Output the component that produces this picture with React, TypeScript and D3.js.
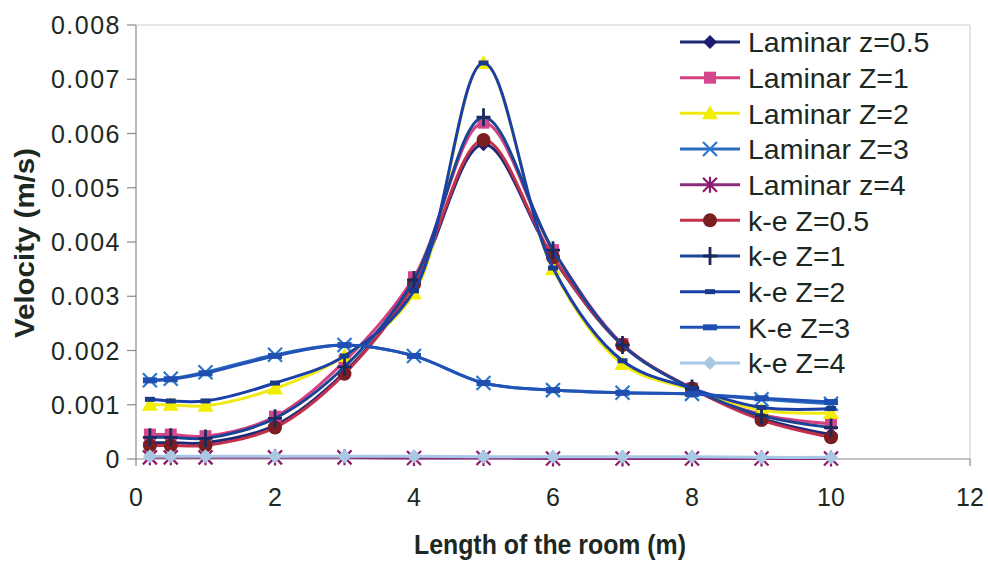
import React from 'react';
import * as d3 from 'd3';

// room positions (m)
const xs = [0.2, 0.5, 1, 2, 3, 4, 5, 6, 7, 8, 9, 10];

// velocities (m/s)
const lamZ05 = [0.0003, 0.0003, 0.0003, 0.00062, 0.0016, 0.0032, 0.0058, 0.0037, 0.0021, 0.0013, 0.00075, 0.00045];
const lamZ1 = [0.00045, 0.00045, 0.00042, 0.00078, 0.0018, 0.00335, 0.0062, 0.00385, 0.00212, 0.0013, 0.00082, 0.00065];
const lamZ2 = [0.001, 0.001, 0.00098, 0.0013, 0.0019, 0.00305, 0.0073, 0.0035, 0.00175, 0.00128, 0.0009, 0.00085];
const lamZ3 = [0.00145, 0.00148, 0.0016, 0.00192, 0.0021, 0.0019, 0.0014, 0.00127, 0.00122, 0.0012, 0.0011, 0.00102];
const lamZ4 = [0.00003, 0.00003, 0.00003, 0.00003, 0.00003, 0.00002, 0.00002, 0.00001, 0.00001, 0.00001, 0.00001, 0.00001];
const keZ05 = [0.00025, 0.00025, 0.00025, 0.00058, 0.00157, 0.00322, 0.00588, 0.00372, 0.0021, 0.0013, 0.00072, 0.0004];
const keZ1 = [0.0004, 0.0004, 0.00038, 0.00075, 0.0017, 0.0033, 0.0063, 0.00385, 0.0021, 0.0013, 0.0008, 0.00058];
const keZ2 = [0.0011, 0.00107, 0.00107, 0.0014, 0.0019, 0.0031, 0.0073, 0.00352, 0.00181, 0.0013, 0.00095, 0.00093];
const keZ3 = [0.00145, 0.00147, 0.00158, 0.0019, 0.0021, 0.0019, 0.0014, 0.00127, 0.00122, 0.0012, 0.00112, 0.00105];
const keZ4 = [0.00005, 0.00005, 0.00005, 0.00005, 0.00005, 0.00005, 0.00004, 0.00004, 0.00004, 0.00004, 0.00003, 0.00003];

const names = ['Laminar z=0.5', 'Laminar Z=1', 'Laminar Z=2', 'Laminar Z=3', 'Laminar z=4',
  'k-e Z=0.5', 'k-e Z=1', 'k-e Z=2', 'K-e Z=3', 'k-e Z=4'];
const values = [lamZ05, lamZ1, lamZ2, lamZ3, lamZ4, keZ05, keZ1, keZ2, keZ3, keZ4];

const xTicks = [0, 2, 4, 6, 8, 10, 12];
const yTicks = [0, 0.001, 0.002, 0.003, 0.004, 0.005, 0.006, 0.007, 0.008];

const styles = [
  { line: '#1c2a78', marker: 'diamond', fill: '#1c1c6e' },
  { line: '#d64080', marker: 'square', fill: '#d6468c' },
  { line: '#f0ea10', marker: 'triangle', fill: '#f2ee00' },
  { line: '#2a6cc0', marker: 'x', fill: '#2a78cc' },
  { line: '#8a2a7a', marker: 'asterisk', fill: '#8b1a6b' },
  { line: '#c3304a', marker: 'circle', fill: '#7a1e22' },
  { line: '#1a4494', marker: 'plus', fill: '#1a2a5e' },
  { line: '#1a3fa8', marker: 'dash', fill: '#1a3a8a' },
  { line: '#2052b8', marker: 'bar', fill: '#1f4fb0' },
  { line: '#a8c8e8', marker: 'diamond', fill: '#a8c8e4' },
];

const font = '"Liberation Sans", Arial, sans-serif';
const textCol = '#1d2822';

function Marker({ kind, cx, cy, color }: { kind: string; cx: number; cy: number; color: string }) {
  const s = 7;
  switch (kind) {
    case 'diamond':
      return <path d={`M${cx},${cy - s}L${cx + s},${cy}L${cx},${cy + s}L${cx - s},${cy}Z`} fill={color} />;
    case 'square':
      return <rect x={cx - 6} y={cy - 6} width={12} height={12} fill={color} />;
    case 'triangle':
      return <path d={`M${cx},${cy - 8}L${cx + 8},${cy + 6}L${cx - 8},${cy + 6}Z`} fill={color} />;
    case 'circle':
      return <circle cx={cx} cy={cy} r={7} fill={color} />;
    case 'x':
      return <path d={`M${cx - s},${cy - s}L${cx + s},${cy + s}M${cx - s},${cy + s}L${cx + s},${cy - s}`} stroke={color} strokeWidth={2.2} />;
    case 'asterisk':
      return <path d={`M${cx - s},${cy - s}L${cx + s},${cy + s}M${cx - s},${cy + s}L${cx + s},${cy - s}M${cx},${cy - s - 1}L${cx},${cy + s + 1}`} stroke={color} strokeWidth={2.2} />;
    case 'plus':
      return <path d={`M${cx - s},${cy}L${cx + s},${cy}M${cx},${cy - s - 2}L${cx},${cy + s + 2}`} stroke={color} strokeWidth={2.8} />;
    case 'dash':
      return <rect x={cx - 5} y={cy - 2.5} width={10} height={5} fill={color} />;
    case 'bar':
      return <rect x={cx - 7} y={cy - 3} width={14} height={6} fill={color} />;
    default:
      return null;
  }
}

export default function App() {
  const width = 988, height = 567;
  const x = d3.scaleLinear().domain([0, 12]).range([136, 970]);
  const y = d3.scaleLinear().domain([0, 0.008]).range([459, 25]);

  const line = d3.line<[number, number]>()
    .x(d => x(d[0]))
    .y(d => y(d[1]))
    .curve(d3.curveCatmullRom.alpha(0.5));

  const legendY = d3.scaleLinear().domain([0, 9]).range([42, 363]);

  return (
    <svg width={width} height={height} style={{ position: 'absolute', left: 0, top: 0, background: '#fff' }}
      fontFamily={font}>
      {/* plot frame */}
      <path d={`M${x(0)},${y(0.008)}H${x(12)}V${y(0)}`} fill="none" stroke="#cccccc" strokeWidth={1} />
      <line x1={x(0)} x2={x(12)} y1={y(0)} y2={y(0)} stroke="#8a8a8a" strokeWidth={1.2} />
      <line x1={x(0)} x2={x(0)} y1={y(0)} y2={y(0.008)} stroke="#8a8a8a" strokeWidth={1.2} />

      {yTicks.map(t => (
        <g key={'y' + t}>
          <line x1={x(0) - 9} x2={x(0)} y1={y(t)} y2={y(t)} stroke="#8a8a8a" strokeWidth={1.2} />
          <text x={121} y={y(t)} dy="0.36em" textAnchor="end" fontSize={25} letterSpacing={1.5}
            fill={textCol}>{t === 0 ? '0' : d3.format('.3f')(t)}</text>
        </g>
      ))}
      {xTicks.map(t => (
        <g key={'x' + t}>
          <line x1={x(t)} x2={x(t)} y1={y(0)} y2={y(0) + 7} stroke="#8a8a8a" strokeWidth={1.2} />
          <text x={x(t)} y={506} textAnchor="middle" fontSize={25} fill={textCol}>{t}</text>
        </g>
      ))}

      <text x={550} y={554} textAnchor="middle" fontSize={27} fontWeight="bold" fill={textCol}
        textLength={272} lengthAdjust="spacingAndGlyphs">Length of the room (m)</text>
      <text transform="translate(34,243) rotate(-90)" textAnchor="middle" fontSize={27} fontWeight="bold"
        fill={textCol} textLength={190} lengthAdjust="spacingAndGlyphs">Velocity (m/s)</text>

      {/* series */}
      {values.map((vals, i) => {
        const pts = xs.map((xv, j) => [xv, vals[j]] as [number, number]);
        return (
          <g key={names[i]}>
            <path d={line(pts) || ''} fill="none" stroke={styles[i].line} strokeWidth={3} />
            {pts.map((p, j) => (
              <Marker key={j} kind={styles[i].marker} cx={x(p[0])} cy={y(p[1])} color={styles[i].fill} />
            ))}
          </g>
        );
      })}

      {/* legend */}
      {names.map((n, i) => (
        <g key={'lg' + n}>
          <line x1={680} x2={740} y1={legendY(i)} y2={legendY(i)} stroke={styles[i].line} strokeWidth={3} />
          <Marker kind={styles[i].marker} cx={710} cy={legendY(i)} color={styles[i].fill} />
          <text x={748} y={legendY(i)} dy="0.36em" fontSize={28.5} fill={textCol}>{n}</text>
        </g>
      ))}
    </svg>
  );
}
